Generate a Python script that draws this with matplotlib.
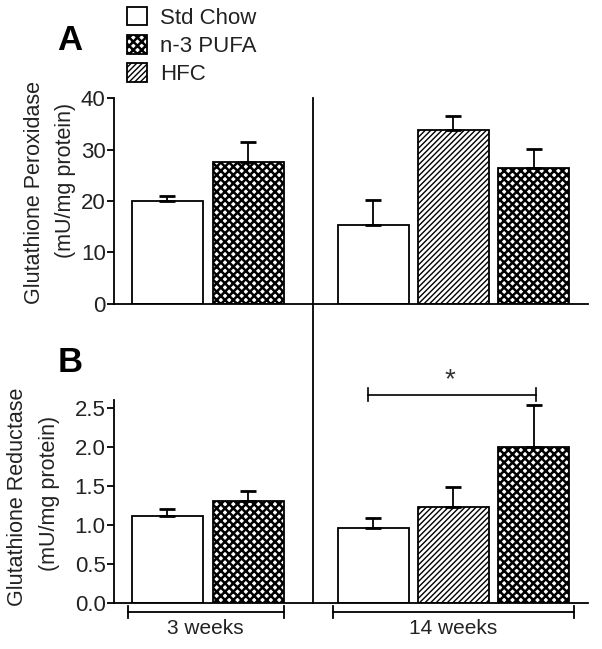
import numpy as np
import matplotlib
matplotlib.use("Agg")
import matplotlib.pyplot as plt
from matplotlib.patches import Patch
from matplotlib.lines import Line2D

plt.rcParams["font.family"] = ["Liberation Sans", "DejaVu Sans"]

# Data (bars in plotting order: 3 wk then 14 wk)
groups = ["3 weeks", "14 weeks"]
diets = ["Std Chow", "n-3 PUFA", "Std Chow", "HFC", "n-3 PUFA"]
gpx_mean = [20.0, 27.6, 15.3, 33.8, 26.4]
gpx_sem = [1.0, 3.8, 4.9, 2.7, 3.7]
gr_mean = [1.12, 1.31, 0.96, 1.23, 2.0]
gr_sem = [0.09, 0.12, 0.13, 0.26, 0.53]
gpx_ticks = [0, 10, 20, 30, 40]
gr_ticks = [0.0, 0.5, 1.0, 1.5, 2.0, 2.5]

# Layout
xpos = np.array([0.0, 1.0, 2.55, 3.54, 4.54])
width = 0.88
group_span = [(-0.49, 1.44), (2.05, 5.04)]
styles = {
    "Std Chow": dict(hatch=None, hlw=1.0),
    "n-3 PUFA": dict(hatch="xxxx", hlw=1.8),
    "HFC": dict(hatch="//////", hlw=1.0),
}
txt = "#222222"

W, H = 602, 649
fig = plt.figure(figsize=(W / 100, H / 100), dpi=100)


def px_axes(x0, y0, x1, y1):
    return fig.add_axes([x0 / W, 1 - y1 / H, (x1 - x0) / W, (y1 - y0) / H])


def draw_bars(ax, means, sems):
    for x, m, s, d in zip(xpos, means, sems, diets):
        st = styles[d]
        b = ax.bar(x, m, width=width, color="white", edgecolor="black",
                   linewidth=1.3, hatch=st["hatch"], zorder=2)[0]
        if hasattr(b, "set_hatch_linewidth"):
            b.set_hatch_linewidth(st["hlw"])
        ax.errorbar(x, m, yerr=[[0], [s]], fmt="none", ecolor="black",
                    elinewidth=1.3, capsize=6, capthick=2.0, zorder=3)
    ax.set_xlim(-0.66, 5.21)
    ax.spines[["top", "right"]].set_visible(False)
    ax.spines[["left", "bottom"]].set_linewidth(1.3)
    ax.set_xticks([])
    ax.tick_params(axis="y", length=5, width=1.3, pad=1, labelsize=16,
                   labelcolor=txt)


# Panel A
axA = px_axes(114, 98, 588, 304)
draw_bars(axA, gpx_mean, gpx_sem)
axA.set_ylim(0, 40)
axA.set_yticks(gpx_ticks)

# Panel B
axB = px_axes(114, 400, 588, 603)
draw_bars(axB, gr_mean, gr_sem)
axB.set_ylim(0, 2.6)
axB.set_yticks(gr_ticks)
axB.set_yticklabels([f"{t:.1f}" for t in gr_ticks])

# significance bracket
ys = 2.67
axB.plot([2.48, 4.57], [ys, ys], color="black", lw=1.2, clip_on=False)
for xe in (2.48, 4.57):
    axB.plot([xe, xe], [ys - 0.08, ys + 0.08], color="black", lw=1.2, clip_on=False)
axB.text(3.5, 2.85, "*", ha="center", va="center", fontsize=20, color="#333333")

# group brackets
yb = -0.115
for (a, b), g in zip(group_span, groups):
    axB.plot([a, b], [yb, yb], color="black", lw=1.3, clip_on=False)
    for xe in (a, b):
        axB.plot([xe, xe], [yb - 0.08, yb + 0.08], color="black", lw=1.3, clip_on=False)
    axB.text((a + b) / 2, yb - 0.09, g, ha="center", va="top", fontsize=15,
             color=txt)

# vertical divider between 3 and 14 weeks
fig.add_artist(Line2D([313 / W, 313 / W], [1 - 98 / H, 1 - 603 / H],
                      color="black", lw=1.3, transform=fig.transFigure))

# y labels
fig.text(35 / W, 1 - 192 / H, "Glutathione Peroxidase", rotation=90,
         ha="center", va="center", fontsize=15.5, color=txt)
fig.text(65 / W, 1 - 180 / H, "(mU/mg protein)", rotation=90,
         ha="center", va="center", fontsize=15.5, color=txt)
fig.text(18 / W, 1 - 497 / H, "Glutathione Reductase", rotation=90,
         ha="center", va="center", fontsize=15.5, color=txt)
fig.text(50 / W, 1 - 493 / H, "(mU/mg protein)", rotation=90,
         ha="center", va="center", fontsize=15.5, color=txt)

# panel letters
fig.text(70 / W, 1 - 41 / H, "A", ha="center", va="center", fontsize=25,
         fontweight="bold")
fig.text(70 / W, 1 - 363 / H, "B", ha="center", va="center", fontsize=25,
         fontweight="bold")

# legend
handles = []
for d in ["Std Chow", "n-3 PUFA", "HFC"]:
    p = Patch(facecolor="white", edgecolor="black", linewidth=1.3,
              hatch=styles[d]["hatch"], label=d)
    handles.append(p)
leg = fig.legend(handles=handles, loc="upper left",
                 bbox_to_anchor=(127 / W, 1 - 7 / H), frameon=False,
                 fontsize=16, handlelength=0.9, handleheight=0.9,
                 handletextpad=0.6, labelspacing=0.28, borderpad=0,
                 borderaxespad=0)
for t in leg.get_texts():
    t.set_color(txt)
for p in leg.get_patches():
    if p.get_hatch() == "xxxx" and hasattr(p, "set_hatch_linewidth"):
        p.set_hatch_linewidth(1.8)

fig.savefig("out.png", dpi=100)
